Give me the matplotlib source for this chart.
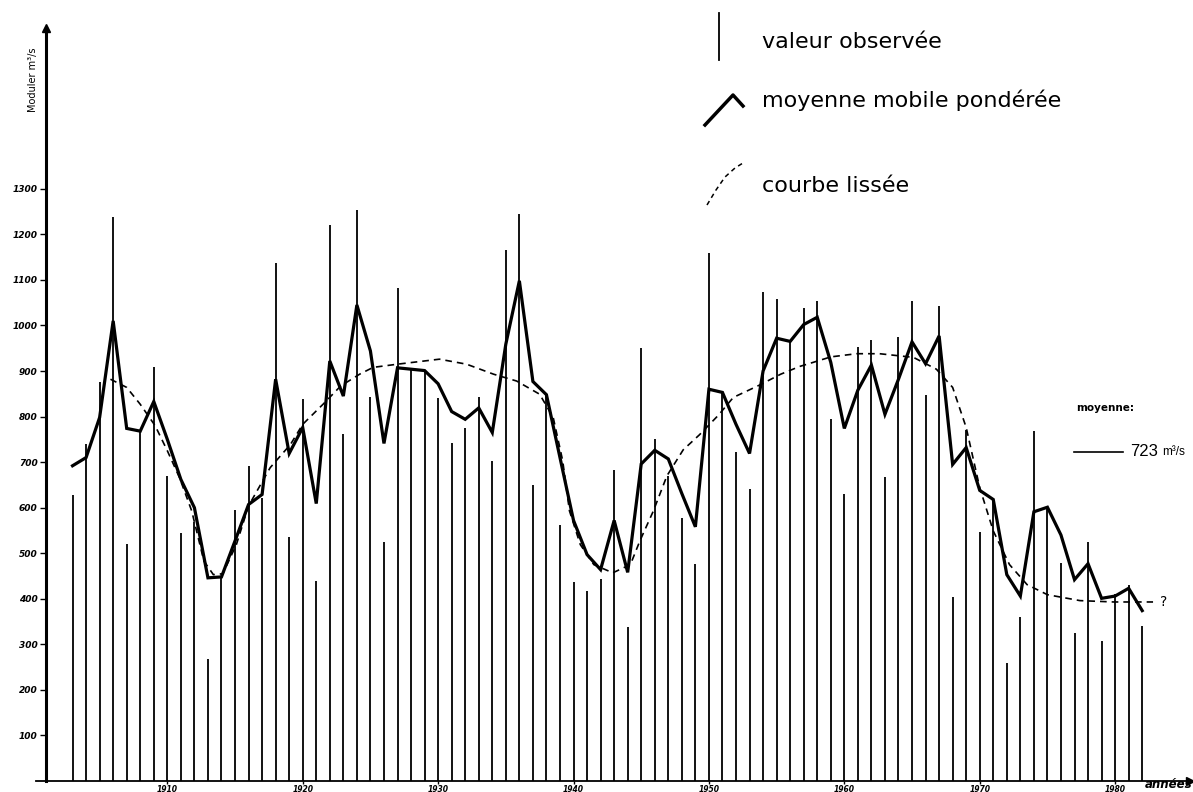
import matplotlib
matplotlib.use("Agg")
import matplotlib.pyplot as plt
from matplotlib.lines import Line2D

# Annual mean discharge (m3/s), one value per year
years = list(range(1903, 1983))
observed = [
    628, 740, 876, 1238, 520, 769, 908, 669, 544, 568,
    268, 445, 596, 692, 621, 1137, 535, 838, 439, 1220,
    761, 1254, 844, 525, 1082, 902, 899, 840, 743, 774,
    843, 702, 1165, 1245, 650, 847, 561, 436, 418, 444,
    682, 337, 950, 750, 670, 577, 477, 1160, 856, 722,
    642, 1073, 1058, 965, 1038, 1053, 794, 629, 952, 968,
    667, 974, 1053, 847, 1042, 405, 771, 547, 615, 260,
    360, 768, 598, 478, 325, 525, 308, 410, 431, 340,
]

# Weighted moving average
moving_avg = [
    692, 710, 798, 1010, 774, 768, 833, 750, 662, 600,
    446, 448, 527, 607, 629, 882, 719, 776, 609, 922,
    845, 1045, 944, 741, 907, 904, 901, 872, 811, 794,
    819, 765, 959, 1098, 877, 848, 710, 572, 497, 464,
    572, 458, 696, 726, 707, 631, 558, 860, 853, 783,
    719, 900, 972, 965, 1002, 1018, 919, 774, 858, 913,
    805, 882, 964, 916, 977, 695, 732, 638, 618, 453,
    406, 591, 601, 540, 442, 477, 401, 406, 423, 374,
]

# Smoothed curve
smooth_years = [
    1905.8, 1907.0, 1908.0, 1909.1, 1910.0, 1910.9, 1911.8, 1912.7, 1913.4,
    1914.1, 1915.1, 1916.0, 1917.6, 1919.1, 1920.0, 1921.5, 1922.8, 1924.2,
    1925.2, 1927.0, 1930.1, 1932.1, 1934.1, 1935.8, 1937.5, 1938.5, 1939.2,
    1939.7, 1940.5, 1941.5, 1942.9, 1944.2, 1944.9, 1945.9, 1946.9, 1948.1,
    1949.3, 1950.7, 1951.8, 1953.8, 1955.3, 1956.7, 1957.7, 1959.0, 1960.9,
    1962.6, 1965.1, 1966.8, 1968.0, 1969.0, 1970.0, 1971.0, 1972.2, 1973.5,
    1975.0, 1977.4, 1979.9, 1982.8,
]
smooth_vals = [
    882, 864, 827, 780, 725, 666, 593, 483, 453,
    455, 519, 604, 688, 739, 783, 827, 867, 893,
    908, 915, 926, 915, 893, 878, 849, 798, 703,
    593, 519, 475, 457, 475, 527, 593, 670, 727,
    760, 803, 842, 870, 893, 910, 919, 931, 938,
    938, 930, 904, 864, 776, 644, 549, 475, 431,
    409, 396, 393, 393,
]

decades = [1910, 1920, 1930, 1940, 1950, 1960, 1970, 1980]
y_ticks = [100, 200, 300, 400, 500, 600, 700, 800, 900, 1000, 1100, 1200, 1300]
mean_flow = 723

W, H = 1193, 792
fig = plt.figure(figsize=(W / 100, H / 100), dpi=100)


def fx(px):
    return px / W


def fy(py):
    return 1 - py / H


ax = fig.add_axes([fx(46), fy(781), fx(1190) - fx(46), fy(28) - fy(781)])
ax.set_xlim(1901.04, 1985.53)
ax.set_ylim(0, 1653)
ax.patch.set_alpha(0)

for side in ("top", "right"):
    ax.spines[side].set_visible(False)
ax.spines["left"].set_linewidth(2.2)
ax.spines["bottom"].set_linewidth(1.3)
ax.spines["bottom"].set_bounds(1900.3, 1985.53)

# arrow heads on the axes
ax.plot([1], [0], marker=">", ms=6, color="k", transform=ax.transAxes, clip_on=False)
ax.plot([0], [1], marker="^", ms=6, color="k", transform=ax.transAxes, clip_on=False)

hand = dict(fontstyle="italic", fontweight="bold")
ax.set_yticks(y_ticks)
ax.set_yticklabels([str(v) for v in y_ticks], fontsize=6.5, **hand)
ax.set_xticks(decades)
ax.set_xticklabels([str(d) for d in decades], fontsize=5.5, **hand)
ax.tick_params(axis="y", direction="out", length=4, width=1, pad=2)
ax.tick_params(axis="x", direction="out", length=2.5, width=1, pad=0.3)

ax.vlines(years, 0, observed, color="k", lw=1.3)
ax.plot(years, moving_avg, color="k", lw=2.3, solid_joinstyle="miter")
ax.plot(smooth_years, smooth_vals, color="k", lw=1.2, ls=(0, (4, 3)))
ax.text(smooth_years[-1] + 0.5, smooth_vals[-1], "?", fontsize=10,
        va="center", ha="left")

# mean discharge marker
ytr = ax.get_yaxis_transform()
ax.plot([0.8985, 0.9414], [mean_flow, mean_flow], color="k", lw=1.2,
        transform=ytr, clip_on=False)
ax.text(0.9475, mean_flow, f"{mean_flow}", fontsize=12, family="Liberation Sans",
        va="center", ha="left", transform=ytr)
ax.text(0.9755, mean_flow, "m³/s", fontsize=8.5, family="Liberation Sans",
        va="center", ha="left", transform=ytr)
fig.text(fx(1076), fy(408), "moyenne:", fontsize=7.5, fontweight="bold",
         va="center", ha="left")

fig.text(fx(1192), fy(791), "années", fontsize=8.5, fontweight="bold",
         fontstyle="italic", va="bottom", ha="right")
fig.text(fx(33), fy(80), "Moduler m³/s", rotation=90, fontsize=7,
         va="center", ha="center")

# key
fig.add_artist(Line2D([fx(719), fx(719)], [fy(13), fy(60)], lw=1.3, color="k"))
fig.add_artist(Line2D([fx(705), fx(733), fx(743)], [fy(125), fy(95), fy(106)],
                      lw=2.5, color="k"))
fig.add_artist(Line2D([fx(707), fx(716), fx(725), fx(735), fx(743)],
                      [fy(205), fy(190), fy(177), fy(168), fy(163)],
                      lw=1.1, color="k", ls=(0, (3, 2.5))))
key = dict(fontsize=16, va="center", ha="left", color="k")
fig.text(fx(762), fy(42), "valeur observée", **key)
fig.text(fx(762), fy(100), "moyenne mobile pondérée", **key)
fig.text(fx(762), fy(186), "courbe lissée", **key)

fig.savefig("out.png", dpi=100, facecolor="white")
